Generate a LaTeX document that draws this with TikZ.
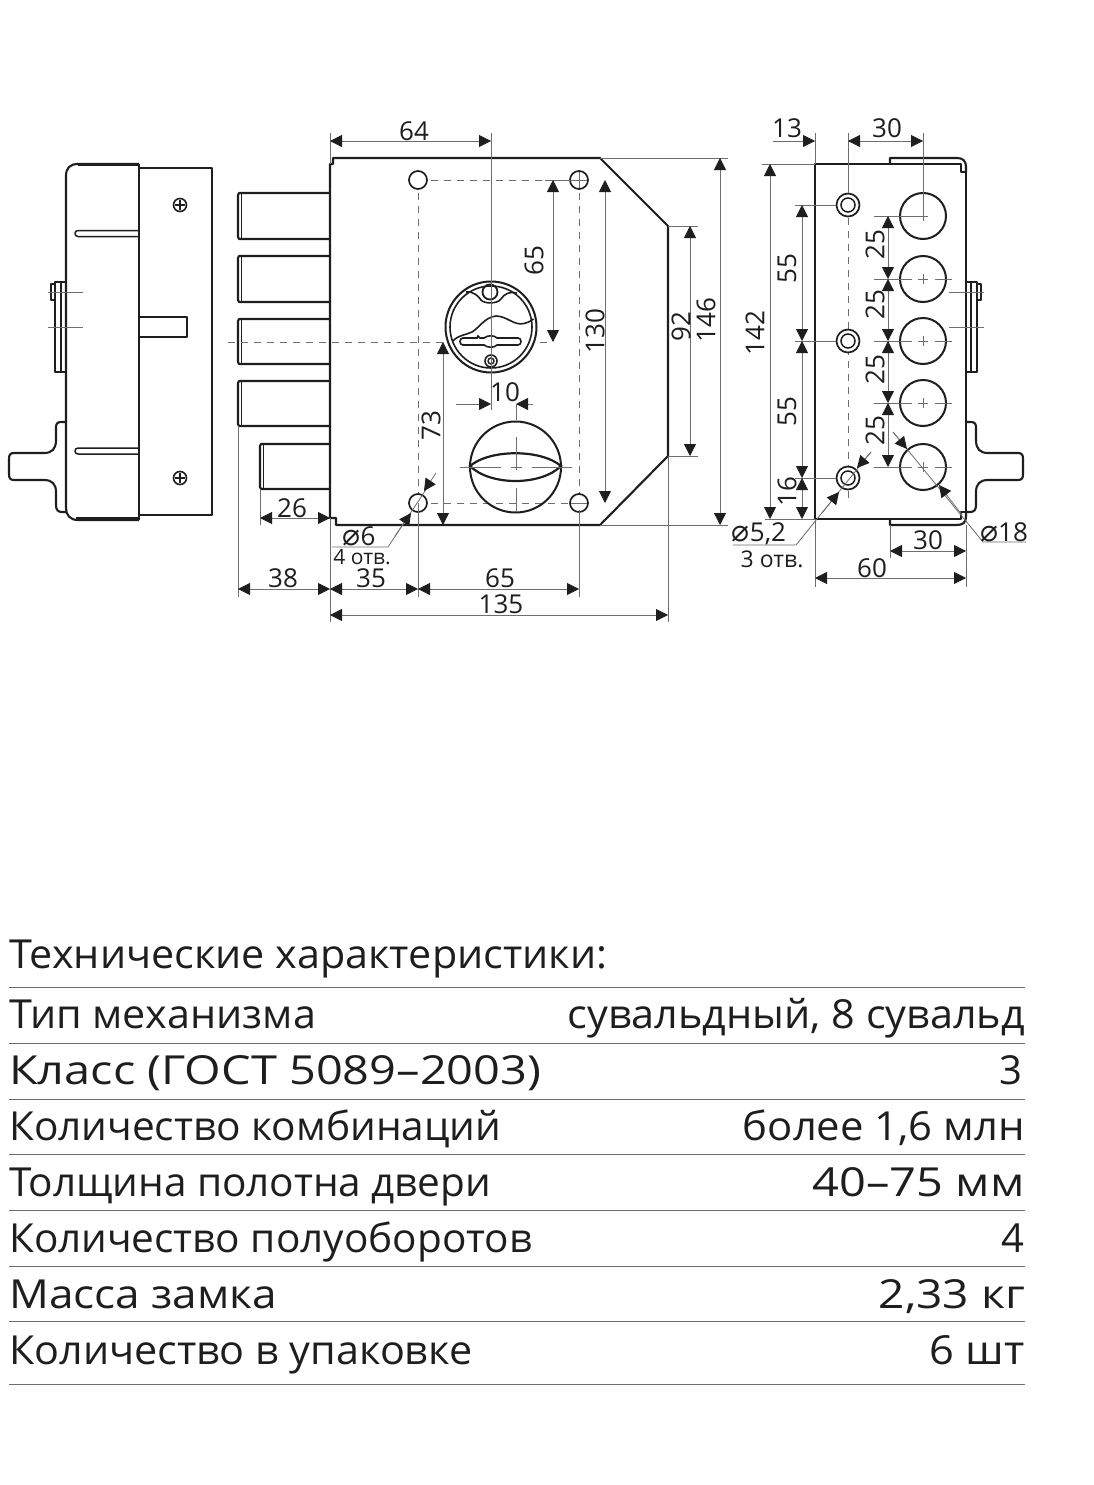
\documentclass[tikz,border=0pt]{standalone}
\usepackage{graphicx}
\usepackage{fontspec}
\setmainfont{Open Sans}
\newfontfamily\symf[Scale=1.15]{DejaVu Sans}
\usetikzlibrary{arrows.meta}
\definecolor{ink}{HTML}{1E1E1E}
\definecolor{thin}{HTML}{6E6E6E}
\newcommand{\fitw}[2]{\resizebox{#1pt}{\height}{#2}}
\tikzset{
 x=1pt,y=-1pt,
 main/.style={draw=ink,line width=2.1pt,line join=round},
 fine/.style={draw=thin,line width=0.8pt},
 dashline/.style={draw=thin,line width=0.9pt,dash pattern=on 7pt off 6pt},
 dim/.style={draw=thin,line width=0.8pt,{Triangle[length=12pt,width=12pt,fill=ink,color=ink]}-{Triangle[length=12pt,width=12pt,fill=ink,color=ink]}},
 dimend/.style={draw=thin,line width=0.8pt,-{Triangle[length=12pt,width=12pt,fill=ink,color=ink]}},
 lab/.style={text=ink,inner sep=0pt,font=\fontsize{26}{26}\selectfont},
 small/.style={text=ink,inner sep=0pt,font=\fontsize{21}{21}\selectfont},
 rowl/.style={text=ink,inner sep=0pt,anchor=base west,font=\fontsize{40}{40}\selectfont},
 rowr/.style={text=ink,inner sep=0pt,anchor=base east,font=\fontsize{40}{40}\selectfont},
 rule/.style={draw=thin,line width=0.8pt},
}
\newcommand{\sidebits}{%
 \draw[main,line width=1.7pt] (66,282) -- (55,282) -- (55,372) -- (66,372);
 \draw[main,line width=1.2pt] (61,282) -- (61,372);
 \draw[main,line width=1.5pt] (55,284) -- (51,284) -- (51,300) -- (55,300);
 \draw[fine] (48,292) -- (83,292) (48,327) -- (83,327);
 \draw[main] (66,422) -- (61,422) .. controls (57,422) and (56,424) .. (56,428)
   -- (56,440) .. controls (56,449) and (52,453) .. (44,453) -- (14,453)
   .. controls (10,453) and (9,455) .. (9,459) -- (9,474)
   .. controls (9,478) and (10,480) .. (14,480) -- (44,480)
   .. controls (52,480) and (56,484) .. (56,492) -- (56,505)
   .. controls (56,510) and (58,512) .. (62,512) -- (66,512);
}
\begin{document}
\begin{tikzpicture}
\useasboundingbox (0,0) rectangle (1093,1485);
\fill[white] (0,0) rectangle (1093,1485);

%% ---------- left view ----------
\draw[main] (139,164) -- (78,164) .. controls (70,164) and (66,168) .. (66,176) -- (66,508)
  .. controls (66,515) and (70,520) .. (78,520) -- (139,520);
\draw[main] (139,164) -- (139,520);
\draw[main,line width=1.2pt] (78,165.5) -- (139,165.5) (76,518) -- (139,518);
\draw[main,line width=1.6pt] (139,168) -- (212,168) -- (212,515) -- (139,515);
\draw[main,line width=1.5pt] (139,230.5) -- (78,230.5) .. controls (74,230.5) and (74,236.5) .. (78,236.5) -- (139,236.5);
\draw[main,line width=1.5pt] (139,448) -- (78,448) .. controls (74,448) and (74,454) .. (78,454) -- (139,454);
\draw[main] (139,317) -- (187,317) -- (187,337) -- (139,337);
\foreach \yy in {205,478}{
  \draw[ink,line width=1.6pt] (180,\yy) circle[radius=6.5];
  \draw[ink,line width=1.6pt] (175,\yy) -- (185,\yy) (180,\yy-5) -- (180,\yy+5);
}
\sidebits

%% ---------- bolts ----------
\foreach \ya/\yb/\xa in {193/239/238,256/302/238,319/364/238,381/426/238,444/489/260}{
  \draw[main] (330,\ya) -- (\xa+1,\ya) -- (\xa,\ya+2) -- (\xa,\yb-2) -- (\xa+1,\yb) -- (330,\yb);
  \draw[main,line width=1.6pt] (\xa+3.5,\ya) -- (\xa+3.5,\yb);
}

%% ---------- front plate ----------
\draw[main] (330,164) -- (333,164) -- (333,158) -- (600,158) -- (668,226) -- (668,456) -- (600,525)
  -- (336,525) -- (336,518) -- (330,518) -- cycle;

\draw[dashline] (228,342) -- (552,342);
\draw[dashline] (418,180) -- (579,180) (418,503) -- (579,503);
\draw[dashline] (418,180) -- (418,503) (579,180) -- (579,503);
\foreach \hx/\hy in {418/180,579/180,418/503,579/503}
  \filldraw[fill=white,draw=ink,line width=1.7pt] (\hx,\hy) circle[radius=9];
\draw[fine] (579,172) -- (579,188) (571,180) -- (587,180) (571,503) -- (587,503);

% cylinder
\filldraw[fill=white,draw=ink,line width=2pt] (491,327) circle[radius=45.5];
\draw[ink,line width=1.6pt] (491,327) circle[radius=41];
\draw[ink,line width=1.8pt] (490,292) circle[radius=7.5];
\draw[ink,line width=1.6pt] (466,292) .. controls (474,291) and (479,297) .. (481,300)
  .. controls (484,304) and (498,304) .. (501,299)
  .. controls (504,294) and (510,291) .. (517,293);
\draw[ink,line width=1.6pt] (453,341) .. controls (458,335) and (466,335) .. (472,332)
  .. controls (479,328) and (485,317) .. (496,316)
  .. controls (507,316) and (514,326) .. (524,323.5)
  .. controls (528,322.5) and (531,321) .. (533.5,319);
\draw[ink,line width=1.6pt] (463,338) -- (477,338) -- (478,336) -- (480,338) -- (484,338)
  .. controls (488,335) and (494,335) .. (497,338) -- (518,338)
  .. controls (522,338) and (522,345) .. (518,345) -- (497,345)
  .. controls (494,348) and (488,348) .. (484,345) -- (463,345)
  .. controls (459,345) and (459,338) .. (463,338) -- cycle;
\draw[ink,line width=1.6pt] (491,361) circle[radius=6];
\draw[ink,line width=1.4pt] (491,361) circle[radius=3];
\draw[fine] (491,341) -- (491,410);

% knob
\draw[ink,line width=2pt] (515.5,467) circle[radius=45.5];
\draw[ink,line width=2.2pt] (470,466) .. controls (490,449) and (541,449) .. (561,466)
  .. controls (541,486) and (490,486) .. (470,466) -- cycle;
\draw[fine] (460,467) -- (501,467) (511,467) -- (522,467) (532,467) -- (572,467);
\draw[fine] (516,404) -- (516,420) (516,437) -- (516,470) (516,488) -- (516,512);

%% dimensions: front
\draw[fine] (330,133) -- (330,164);
\draw[fine] (491,133) -- (491,341);
\draw[dim] (330,141) -- (491,141);
\node[lab] (d64) at (414,131) {64};
\draw[fine] (579,180) -- (545,180);
\draw[dim] (553,180) -- (553,342);
\node[lab,rotate=90] (d65a) at (534,261) {65};
\draw[dim] (605,180) -- (605,503);
\node[lab,rotate=90] (d130) at (595,331) {130};
\draw[fine] (668,226) -- (698,226) (668,456) -- (698,456);
\draw[dim] (690,226) -- (690,456);
\node[lab,rotate=90] (d92) at (681,327) {92};
\draw[fine] (600,158) -- (728,158) (600,525) -- (728,525);
\draw[dim] (720,158) -- (720,525);
\node[lab,rotate=90] (d146) at (706,320) {146};
\draw[dim] (443,342) -- (443,525);
\node[lab,rotate=90] (d73) at (431,426) {73};
\draw[dimend] (456,404) -- (491,404);
\draw[dimend] (533,404) -- (516,404);
\node[lab] (d10) at (505,392) {10};
\draw[fine] (260,489) -- (260,525);
\draw[dim] (260,518) -- (330,518);
\node[lab] (d26) at (292,508) {26};
\draw[fine] (238,426) -- (238,597) (330,518) -- (330,622) (418,503) -- (418,597) (579,510) -- (579,597) (668,456) -- (668,622);
\draw[dim] (238,589) -- (330,589);
\draw[dim] (330,589) -- (418,589);
\draw[dim] (418,589) -- (579,589);
\draw[dim] (330,615) -- (668,615);
\node[lab] (d38) at (283,578) {38};
\node[lab] (d35) at (371,578) {35};
\node[lab] (d65b) at (500,578) {65};
\node[lab] (d135) at (501,604) {135};
\draw[fine] (332,547) -- (388,547) -- (431,482);
\draw[dimend] (395,536) -- (411,513);
\draw[dimend] (436,473) -- (424,491);
\node[lab] (dia6) at (359,536) {{\symf ⌀}6};
\node[small] (holes4) at (362,557) {4 отв.};

%% ---------- right view ----------
\draw[main] (815,519) -- (815,164) -- (961,164) -- (961,172) -- (966,172) -- (966,512) -- (961,512) -- (961,519) -- cycle;
\draw[main] (890,164) -- (890,158) -- (957,158) .. controls (963,158) and (966,161) .. (966,167) -- (966,172);
\draw[main] (890,519) -- (890,525) -- (957,525) .. controls (963,525) and (966,522) .. (966,517) -- (966,512);
\begin{scope}[xshift=1032pt,xscale=-1]
\sidebits
\end{scope}
\draw[dashline] (848,205) -- (848,504);
\foreach \yy in {205,341,478}{
  \filldraw[fill=white,draw=ink,line width=1.7pt] (848,\yy) circle[radius=11.5];
  \draw[ink,line width=1.5pt] (848,\yy) circle[radius=7];
}
\foreach \yy in {216,279,341,403,467}{
  \draw[ink,line width=2pt] (923,\yy) circle[radius=23];
  \draw[fine] (918,\yy) -- (928,\yy) (923,\yy-5) -- (923,\yy+5);
}
\foreach \yy in {279,341,403,467}{
  \draw[fine] (935,\yy) -- (952,\yy);
  \draw[fine] (874,\yy) -- (912,\yy);
}
\draw[fine] (874,216) -- (927,216);
\draw[fine] (815,133) -- (815,164) (848,133) -- (848,193) (923,133) -- (923,216);
\draw[dimend] (773,141) -- (815,141);
\draw[dim] (848,141) -- (923,141);
\node[lab] (r13) at (787,128) {13};
\node[lab] (r30a) at (887,128) {30};
\draw[fine] (762,164) -- (815,164) (765,519) -- (815,519);
\draw[dim] (770,164) -- (770,519);
\node[lab,rotate=90] (r142) at (755,333) {142};
\draw[fine] (795,205) -- (836,205) (795,341) -- (836,341) (795,478) -- (836,478);
\draw[dim] (802,205) -- (802,341);
\draw[dim] (802,341) -- (802,478);
\draw[dim] (802,478) -- (802,519);
\node[lab,rotate=90] (r55a) at (787,269) {55};
\node[lab,rotate=90] (r55b) at (787,412) {55};
\node[lab,rotate=90] (r16) at (787,492) {16};
\draw[dim] (888,216) -- (888,279);
\draw[dim] (888,279) -- (888,341);
\draw[dim] (888,341) -- (888,403);
\draw[dim] (888,403) -- (888,467);
\node[lab,rotate=90] (r25a) at (875,245) {25};
\node[lab,rotate=90] (r25b) at (875,305) {25};
\node[lab,rotate=90] (r25c) at (875,370) {25};
\node[lab,rotate=90] (r25d) at (875,431) {25};
\draw[fine] (733,545) -- (796,545) -- (871,452);
\draw[dimend] (822,513) -- (839,492);
\draw[dimend] (871,452) -- (857,468);
\node[lab] (dia52) at (759,534) {{\symf ⌀}5,2};
\node[small,font=\fontsize{23}{23}\selectfont] (holes3) at (772,559) {3 отв.};
\draw[fine] (893,432) -- (983,542) -- (1026,542);
\draw[dimend] (893,432) -- (907,449);
\draw[dimend] (962,515) -- (939,485);
\node[lab] (dia18) at (1004,532) {{\symf ⌀}18};
\draw[fine] (890,525) -- (890,558) (966,525) -- (966,587) (815,519) -- (815,587);
\draw[dim] (890,551) -- (966,551);
\draw[dim] (815,578) -- (966,578);
\node[lab] (r30b) at (928,540) {30};
\node[lab] (r60) at (872,568) {60};

%% ---------- table ----------
\foreach \yy in {987,1043,1099,1154,1210,1266,1321,1384}
  \draw[rule] (9,\yy) -- (1025,\yy);
\node[rowl] (title) at (9,968) {\fitw{598}{Технические характеристики:}};
\node[rowl] (l1) at (9,1028) {\fitw{307}{Тип механизма}};
\node[rowr] (v1) at (1025,1028) {\fitw{457}{сувальдный, 8 сувальд}};
\node[rowl] (l2) at (9,1084) {\fitw{532}{Класс (ГОСТ 5089–2003)}};
\node[rowr] (v2) at (1023,1084) {3};
\node[rowl] (l3) at (9,1140) {\fitw{492}{Количество комбинаций}};
\node[rowr] (v3) at (1025,1140) {\fitw{282}{более 1,6 млн}};
\node[rowl] (l4) at (9,1196) {\fitw{482}{Толщина полотна двери}};
\node[rowr] (v4) at (1025,1196) {\fitw{212}{40–75 мм}};
\node[rowl] (l5) at (9,1252) {\fitw{523}{Количество полуоборотов}};
\node[rowr] (v5) at (1025,1252) {4};
\node[rowl] (l6) at (9,1308) {\fitw{268}{Масса замка}};
\node[rowr] (v6) at (1025,1308) {\fitw{146}{2,33 кг}};
\node[rowl] (l7) at (9,1364) {\fitw{463}{Количество в упаковке}};
\node[rowr] (v7) at (1025,1364) {\fitw{95}{6 шт}};
\end{tikzpicture}
\end{document}
